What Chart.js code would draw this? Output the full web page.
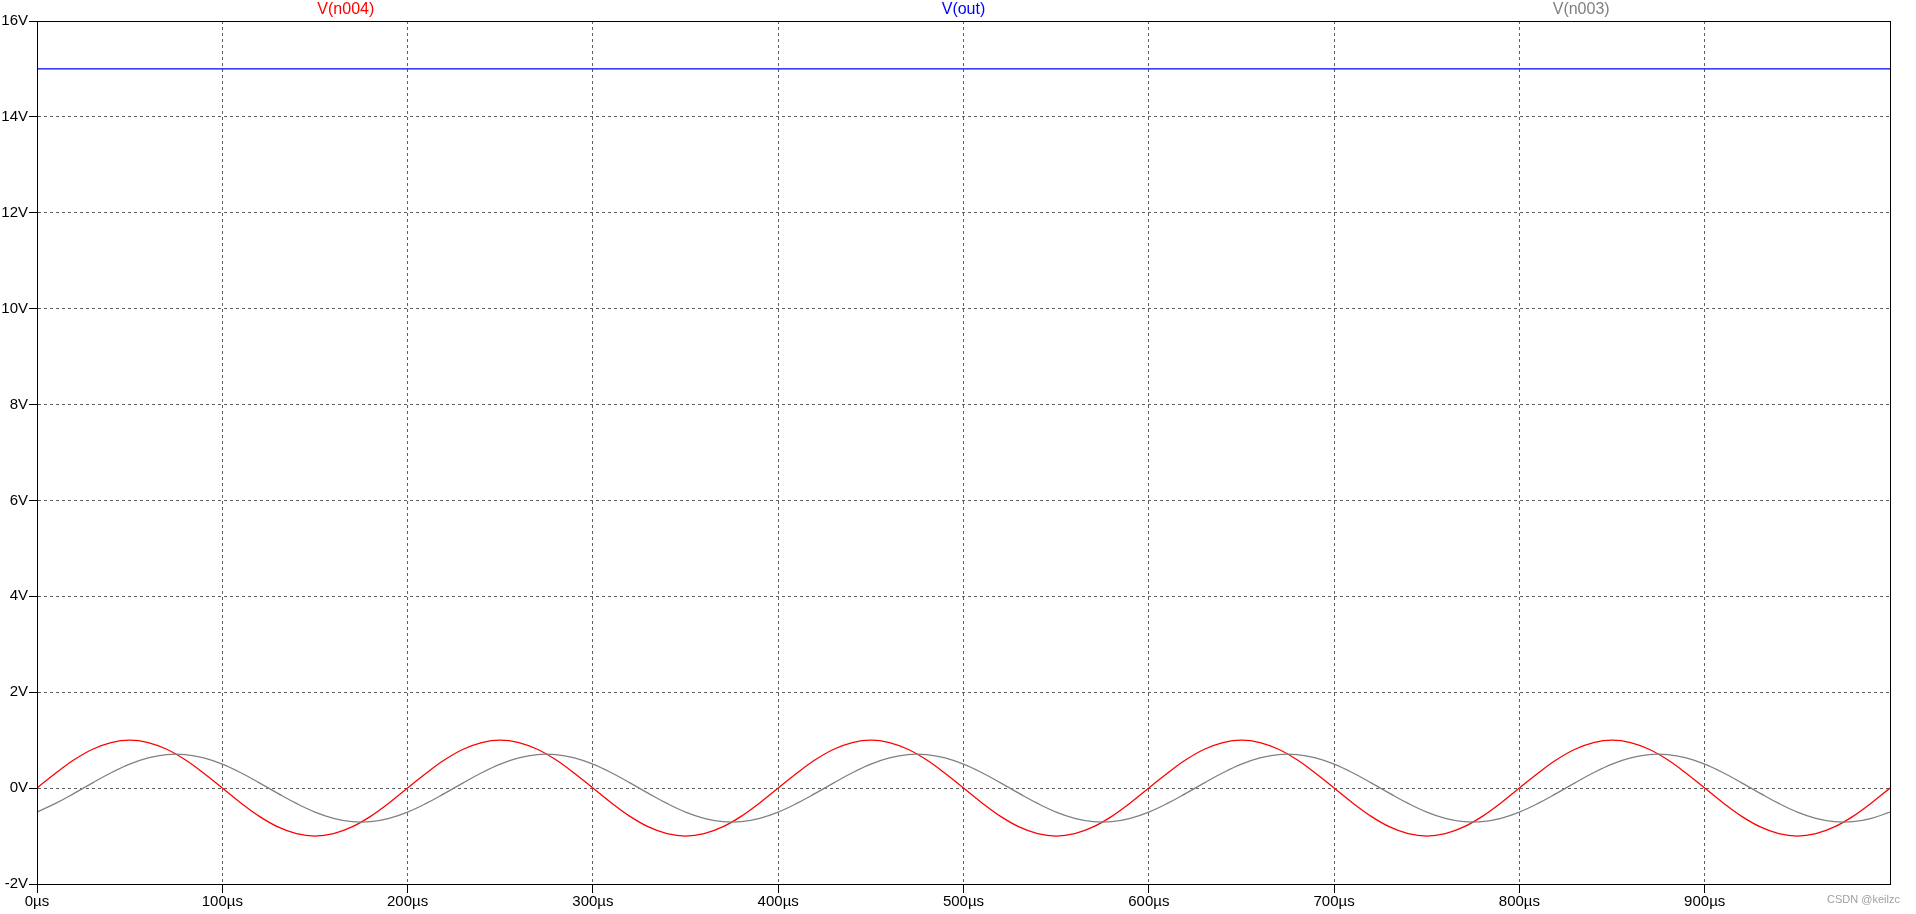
<!DOCTYPE html>
<html>
<head>
<meta charset="utf-8">
<title>V(n004), V(out), V(n003)</title>
<script src="https://cdn.jsdelivr.net/npm/chart.js@4/dist/chart.umd.min.js"></script>
<style>
    html, body { margin: 0; padding: 0; background: #fff; }
    #wrap { position: relative; width: 1916px; height: 914px; }
    #mark {
        position: absolute; right: 16px; top: 893px;
        font: 11px "Liberation Sans", sans-serif; color: #a0a0a0;
    }
</style>
</head>
<body>
<div id="wrap">
    <canvas id="scope" width="1916" height="914"></canvas>
    <div id="mark">CSDN @keilzc</div>
</div>
<script>
// time axis, µs (one sample every 10 µs)
const timeUs = [
    0, 10, 20, 30, 40, 50, 60, 70, 80, 90,
    100, 110, 120, 130, 140, 150, 160, 170, 180, 190,
    200, 210, 220, 230, 240, 250, 260, 270, 280, 290,
    300, 310, 320, 330, 340, 350, 360, 370, 380, 390,
    400, 410, 420, 430, 440, 450, 460, 470, 480, 490,
    500, 510, 520, 530, 540, 550, 560, 570, 580, 590,
    600, 610, 620, 630, 640, 650, 660, 670, 680, 690,
    700, 710, 720, 730, 740, 750, 760, 770, 780, 790,
    800, 810, 820, 830, 840, 850, 860, 870, 880, 890,
    900, 910, 920, 930, 940, 950, 960, 970, 980, 990,
    1000
];

// V(n004), volts
const vN004 = [
    0, 0.31, 0.59, 0.81, 0.95, 1.00, 0.95, 0.81, 0.59, 0.31,
    0, -0.31, -0.59, -0.81, -0.95, -1.00, -0.95, -0.81, -0.59, -0.31,
    0, 0.31, 0.59, 0.81, 0.95, 1.00, 0.95, 0.81, 0.59, 0.31,
    0, -0.31, -0.59, -0.81, -0.95, -1.00, -0.95, -0.81, -0.59, -0.31,
    0, 0.31, 0.59, 0.81, 0.95, 1.00, 0.95, 0.81, 0.59, 0.31,
    0, -0.31, -0.59, -0.81, -0.95, -1.00, -0.95, -0.81, -0.59, -0.31,
    0, 0.31, 0.59, 0.81, 0.95, 1.00, 0.95, 0.81, 0.59, 0.31,
    0, -0.31, -0.59, -0.81, -0.95, -1.00, -0.95, -0.81, -0.59, -0.31,
    0, 0.31, 0.59, 0.81, 0.95, 1.00, 0.95, 0.81, 0.59, 0.31,
    0, -0.31, -0.59, -0.81, -0.95, -1.00, -0.95, -0.81, -0.59, -0.31,
    0
];

// V(n003), volts
const vN003 = [
    -0.50, -0.32, -0.11, 0.11, 0.32, 0.50, 0.63, 0.70, 0.70, 0.63,
    0.50, 0.32, 0.11, -0.11, -0.32, -0.50, -0.63, -0.70, -0.70, -0.63,
    -0.50, -0.32, -0.11, 0.11, 0.32, 0.50, 0.63, 0.70, 0.70, 0.63,
    0.50, 0.32, 0.11, -0.11, -0.32, -0.50, -0.63, -0.70, -0.70, -0.63,
    -0.50, -0.32, -0.11, 0.11, 0.32, 0.50, 0.63, 0.70, 0.70, 0.63,
    0.50, 0.32, 0.11, -0.11, -0.32, -0.50, -0.63, -0.70, -0.70, -0.63,
    -0.50, -0.32, -0.11, 0.11, 0.32, 0.50, 0.63, 0.70, 0.70, 0.63,
    0.50, 0.32, 0.11, -0.11, -0.32, -0.50, -0.63, -0.70, -0.70, -0.63,
    -0.50, -0.32, -0.11, 0.11, 0.32, 0.50, 0.63, 0.70, 0.70, 0.63,
    0.50, 0.32, 0.11, -0.11, -0.32, -0.50, -0.63, -0.70, -0.70, -0.63,
    -0.50
];

// V(out) is flat, so two samples are enough
const outTimeUs = [0, 1000];
const vOut = [15, 15];

const FAMILY = '"Liberation Sans", Arial, sans-serif';
const TICK_FONT = { family: FAMILY, size: 15 };

const toPoints = (xs, ys) => xs.map((x, i) => ({ x: x, y: ys[i] }));

// black frame round the plot + trace names spread across the top
const frameAndNames = {
    id: 'frameAndNames',
    afterDatasetsDraw(chart) {
        const { ctx, chartArea: a } = chart;
        ctx.save();
        ctx.strokeStyle = '#000';
        ctx.lineWidth = 1;
        ctx.strokeRect(Math.round(a.left) + 0.5, Math.round(a.top) + 0.5,
            Math.round(a.right - a.left), Math.round(a.bottom - a.top));

        const sets = chart.data.datasets;
        const third = (a.right - a.left) / sets.length;
        ctx.font = '16px ' + FAMILY;
        ctx.textAlign = 'center';
        ctx.textBaseline = 'middle';
        sets.forEach((ds, i) => {
            ctx.fillStyle = ds.borderColor;
            ctx.fillText(ds.label, a.left + third * (i + 0.5), 10);
        });
        ctx.restore();
    }
};

new Chart(document.getElementById('scope'), {
    type: 'line',
    data: {
        datasets: [
            {
                label: 'V(n004)',
                data: toPoints(timeUs, vN004),
                borderColor: '#ff0000',
                borderWidth: 1.3,
                pointRadius: 0,
                tension: 0.4,
                order: 2
            },
            {
                label: 'V(out)',
                data: toPoints(outTimeUs, vOut),
                borderColor: '#0000ff',
                borderWidth: 1.3,
                pointRadius: 0,
                order: 1
            },
            {
                label: 'V(n003)',
                data: toPoints(timeUs, vN003),
                borderColor: '#808080',
                borderWidth: 1.3,
                pointRadius: 0,
                tension: 0.4,
                order: 0
            }
        ]
    },
    options: {
        responsive: false,
        animation: false,
        layout: { padding: { top: 21, right: 26, left: 0, bottom: 0 } },
        plugins: {
            legend: { display: false },
            tooltip: { enabled: false }
        },
        scales: {
            x: {
                type: 'linear',
                min: 0,
                max: 1000,
                afterFit: (s) => { s.height = 30; },
                afterBuildTicks: (s) => { s.ticks = s.ticks.filter(t => t.value < 1000); },
                ticks: {
                    stepSize: 100,
                    color: '#000',
                    font: TICK_FONT,
                    padding: 0,
                    maxRotation: 0,
                    callback: (v) => v + 'µs'
                },
                grid: {
                    color: '#606060',
                    tickColor: '#000',
                    tickLength: 9
                },
                border: { color: '#000', dash: [3, 3] }
            },
            y: {
                min: -2,
                max: 16,
                afterFit: (s) => { s.width = 37; },
                ticks: {
                    stepSize: 2,
                    color: '#000',
                    font: TICK_FONT,
                    padding: 1,
                    callback: (v) => v + 'V'
                },
                grid: {
                    color: '#606060',
                    tickColor: '#000',
                    tickLength: 8
                },
                border: { color: '#000', dash: [3, 3] }
            }
        }
    },
    plugins: [frameAndNames]
});
</script>
</body>
</html>
